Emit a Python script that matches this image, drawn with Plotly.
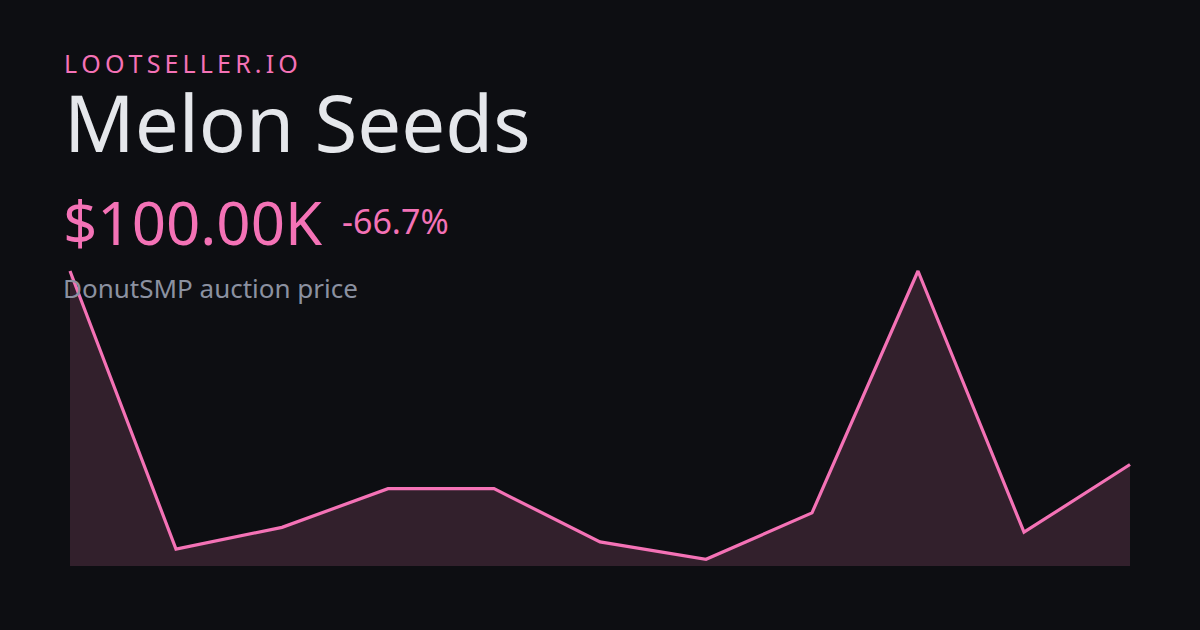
import plotly.graph_objects as go

# ---- data ----
days = list(range(11))
prices_k = [300, 12.5, 35, 75, 75, 20, 2, 50, 300, 30, 100]  # price in $K
brand = "LOOTSELLER.IO"
item_name = "Melon Seeds"
price_label = "$100.00K"
change_label = "-66.7%"
subtitle = "DonutSMP auction price"

# ---- layout constants ----
W, H = 1200, 630
ML, MR, MT, MB = 62, 62, 262, 64
PW, PH = W - ML - MR, H - MT - MB
Y_LO, Y_HI = -4.93, 309.3
X_LO, X_HI = -0.0755, 10.0755

BG = "#0d0e12"
PINK = "#f472b6"
FILL = "#32202c"


def px(x):
    return (x - ML) / PW


def py(y):
    return (H - MB - y) / PH


fig = go.Figure()
fig.add_trace(go.Scatter(x=days, y=[Y_LO] * len(days), mode="lines",
                         line=dict(width=0, color=BG), hoverinfo="skip", showlegend=False))
fig.add_trace(go.Scatter(x=days, y=prices_k, mode="lines", fill="tonexty", fillcolor=FILL,
                         line=dict(color=PINK, width=3.2), showlegend=False))

font = "Noto Sans"
ann = []
spaced = "\u2009".join(brand)
ann.append(dict(text=spaced, x=px(62), y=py(63), xanchor="left", yanchor="middle",
                font=dict(family=font, size=25, color=PINK)))
ann.append(dict(text=item_name, x=px(62), y=py(122), xanchor="left", yanchor="middle",
                font=dict(family=font, size=78, color="#e5e7eb")))
ann.append(dict(text=price_label, x=px(61), y=py(222), xanchor="left", yanchor="middle",
                font=dict(family=font, size=60, color=PINK)))
ann.append(dict(text=change_label, x=px(340), y=py(221), xanchor="left", yanchor="middle",
                font=dict(family=font, size=34, color=PINK)))
ann.append(dict(text=subtitle, x=px(61), y=py(288), xanchor="left", yanchor="middle",
                font=dict(family=font, size=26, color="#8b91a0")))
for a in ann:
    a.update(xref="paper", yref="paper", showarrow=False)

fig.update_layout(
    width=W, height=H,
    margin=dict(l=ML, r=MR, t=MT, b=MB, pad=0),
    paper_bgcolor=BG, plot_bgcolor=BG,
    xaxis=dict(range=[X_LO, X_HI], visible=False, fixedrange=True),
    yaxis=dict(range=[Y_LO, Y_HI], visible=False, fixedrange=True),
    annotations=ann,
    showlegend=False,
)

fig.write_html(
    "out.html",
    config={"displayModeBar": False},
    post_script="document.body.style.margin='0';document.body.style.background='#0d0e12';",
)
